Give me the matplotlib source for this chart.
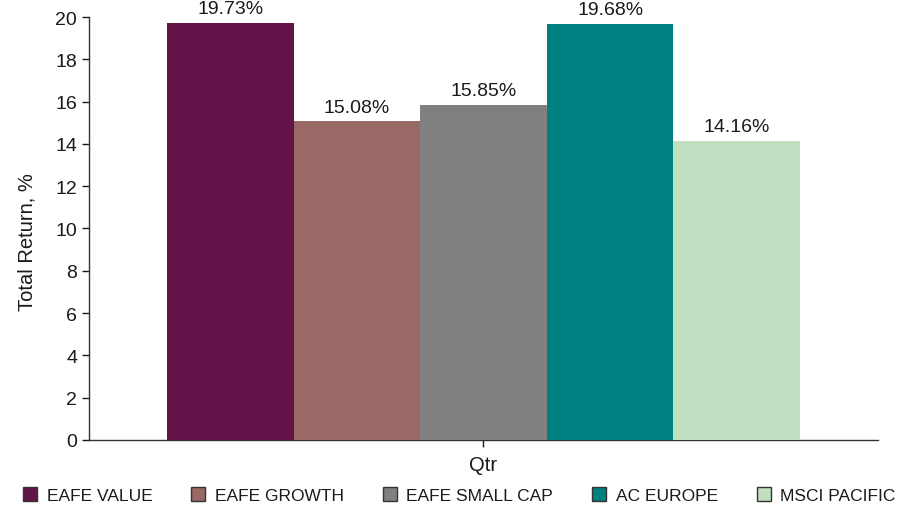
import numpy as np
import matplotlib
matplotlib.use('Agg')
import matplotlib.pyplot as plt
from matplotlib.patches import Patch

plt.rcParams['font.family'] = ['Liberation Sans', 'DejaVu Sans']

# Quarterly total returns by index
categories = ['Qtr']
series = ['EAFE VALUE', 'EAFE GROWTH', 'EAFE SMALL CAP', 'AC EUROPE', 'MSCI PACIFIC']
returns = [19.73, 15.08, 15.85, 19.68, 14.16]
colors = ['#63154a', '#996966', '#808080', '#008080', '#c0dec0']
yticks = [0, 2, 4, 6, 8, 10, 12, 14, 16, 18, 20]

fig = plt.figure(figsize=(9.11, 5.06), dpi=100)
ax = fig.add_axes([0.0977, 0.1285, 0.866, 0.8359])

n = len(series)
width = 0.1605
x = np.arange(len(categories))
for i, (name, val, col) in enumerate(zip(series, returns, colors)):
    pos = x + (i - (n - 1) / 2) * width
    ax.bar(pos, [val], width=width, color=col, label=name, zorder=3)
    ax.annotate(f'{val:.2f}%', (pos[0], val), xytext=(0, 4), textcoords='offset points',
                ha='center', va='bottom', fontsize=14, color='#1a1a1a',
                annotation_clip=False)

ax.set_xlim(-0.5, 0.5)
ax.set_ylim(0, 20)
ax.set_yticks(yticks)
ax.set_xticks(x)
ax.set_xticklabels(categories)
ax.tick_params(axis='both', labelsize=14, colors='#1a1a1a', length=5, width=1)
ax.tick_params(axis='x', pad=6, labelsize=14.5)
ax.set_ylabel('Total Return, %', fontsize=14.5, color='#1a1a1a')
ax.yaxis.set_label_coords(-0.066, 0.47)

for s in ['top', 'right']:
    ax.spines[s].set_visible(False)
for s in ['left', 'bottom']:
    ax.spines[s].set_color('#333333')
    ax.spines[s].set_linewidth(1)

handles = [Patch(facecolor=c, edgecolor='#333333', linewidth=1) for c in colors]
fig.legend(handles, series, loc='lower left', bbox_to_anchor=(0.012, -0.02), ncol=5,
           frameon=False, fontsize=12.5, handlelength=0.8, handleheight=0.8,
           handletextpad=0.55, columnspacing=2.25, labelcolor='#1a1a1a',
           borderaxespad=0.3)

fig.savefig('out.png', dpi=100)
